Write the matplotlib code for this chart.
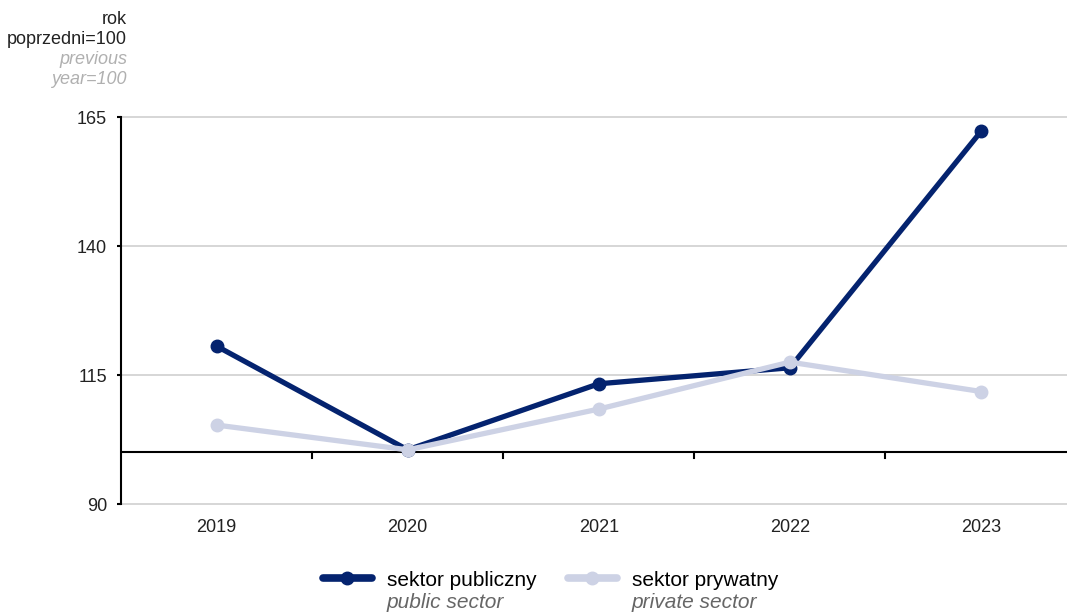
import numpy as np
import matplotlib
matplotlib.use("Agg")
from matplotlib import rc, pyplot as plt
from matplotlib.lines import Line2D

rc('font', family=['Liberation Sans', 'DejaVu Sans'])

years = ['2019', '2020', '2021', '2022', '2023']
public = [120.6, 100.5, 113.3, 116.4, 162.2]
private = [105.3, 100.5, 108.4, 117.5, 111.8]
yticks = [90, 115, 140, 165]

navy = '#04236f'
light = '#cdd2e5'

W, H = 1067, 613
fig = plt.figure(figsize=(W / 100, H / 100), dpi=100)
ax = fig.add_axes([121 / W, 1 - 504 / H, (W - 121) / W, (504 - 117) / H])

x = np.arange(len(years))
ax.plot(x, public, color=navy, lw=3.8, marker='o', ms=9, zorder=3, solid_capstyle='round')
ax.plot(x, private, color=light, lw=3.8, marker='o', ms=9, zorder=4, solid_capstyle='round')

ax.set_ylim(90, 165)
ax.set_xlim(-0.5, 4.45)
ax.set_yticks(yticks)
ax.set_yticklabels([str(v) for v in yticks], fontsize=13, color='#222222')
for v in yticks:
    ax.axhline(v, color='#d0d0d0', lw=1.2, zorder=1, clip_on=False)

for s in ['top', 'right', 'bottom']:
    ax.spines[s].set_visible(False)
ax.spines['left'].set_linewidth(1.5)
ax.tick_params(axis='y', length=3, width=1.5, pad=7)
ax.tick_params(axis='x', length=0, pad=11)
ax.set_xticks(x)
ax.set_xticklabels(years, fontsize=13, color='#222222')

# base line at 100 with category boundary ticks
ax.axhline(100, color='black', lw=1.5, zorder=2)
for b in np.arange(0.5, len(years) - 0.5):
    ax.plot([b, b], [100, 99.0], color='black', lw=1.5, zorder=2)

# unit label
unit_lines = [('rok', '#222222', 'normal', 19), ('poprzedni=100', '#222222', 'normal', 40),
              ('previous', '#b0b0b0', 'italic', 60), ('year=100', '#b0b0b0', 'italic', 80)]
for t, c, st, yy in unit_lines:
    fig.text(127 / W, 1 - yy / H, t, ha='right', va='center', fontsize=13, color=c, style=st)

# legend
legend_items = [('sektor publiczny', 'public sector', navy, 320),
                ('sektor prywatny', 'private sector', light, 565)]
for pl, en, c, x0 in legend_items:
    fig.add_artist(Line2D([(x0 + 3) / W, (x0 + 52) / W], [1 - 578 / H] * 2,
                          color=c, lw=5.5, solid_capstyle='round'))
    fig.add_artist(Line2D([(x0 + 27) / W], [1 - 578 / H], color=c, marker='o', ms=9))
    fig.text((x0 + 67) / W, 1 - 580 / H, pl, ha='left', va='center', fontsize=15,
             color='black')
    fig.text((x0 + 67) / W, 1 - 602 / H, en, ha='left', va='center', fontsize=15,
             color='#666666', style='italic')

fig.savefig('out.png', dpi=100)
